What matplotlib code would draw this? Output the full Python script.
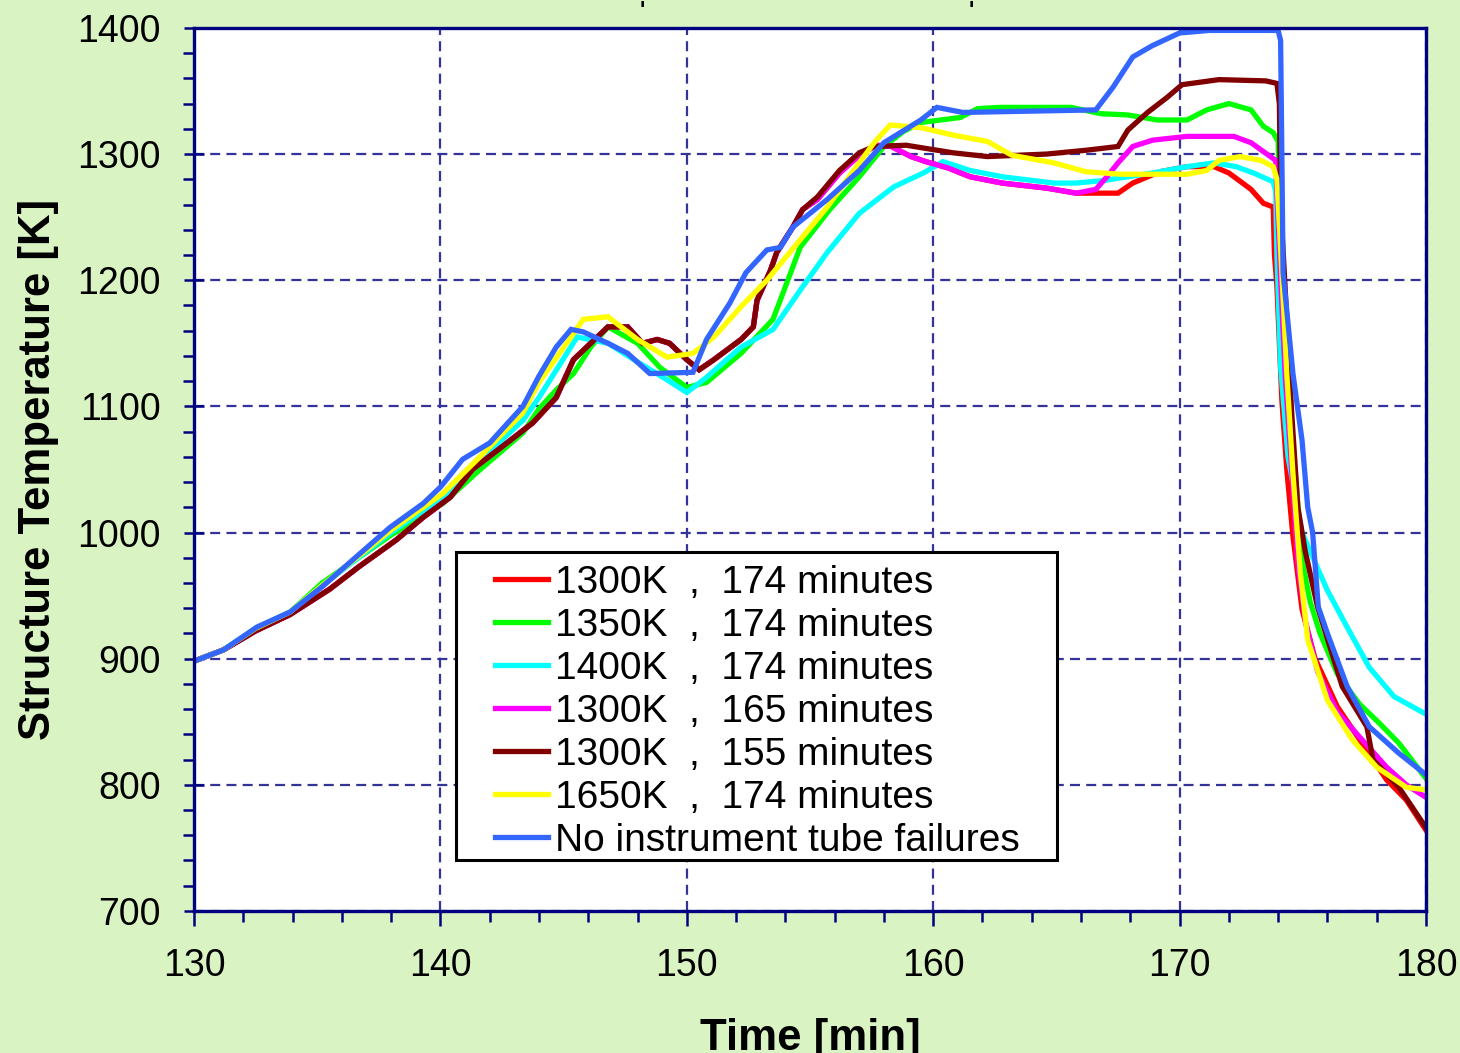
import matplotlib
matplotlib.use('Agg')
import matplotlib.pyplot as plt
from matplotlib.patches import Rectangle
from matplotlib.ticker import MultipleLocator

plt.rcParams['font.family'] = ['Liberation Sans', 'DejaVu Sans']

# structure temperature traces, time in min / temperature in K
t_red = [130, 131.2, 132.5, 133.9, 135.5, 136.7, 138.2, 139.3, 140.4, 141.3, 142.7, 143.75,
         144.7, 145.4, 146.1, 146.8, 147.6, 148.2, 148.8, 149.3, 150.0, 150.5, 151.1, 152.2,
         152.7, 152.85, 153.4, 153.65, 154.3, 154.7, 155.3, 156.2, 157.0, 157.7, 158.3, 159.1,
         159.7, 160.6, 161.5, 162.8, 164.6, 165.8, 167.5, 168.1, 169.2, 170.3, 171.4, 172.0,
         172.9, 173.4, 173.8, 173.85, 173.95, 174.15, 174.35, 174.6, 174.97, 175.5, 176.4,
         177.3, 178.4, 179.2, 180]
T_red = [898, 907, 922, 935, 955, 973, 994, 1012, 1028, 1050, 1071, 1087,
         1107, 1137, 1150, 1163, 1163, 1150, 1153, 1150, 1137, 1129, 1137, 1153,
         1163, 1184, 1208, 1222, 1242, 1256, 1264, 1285, 1299, 1307, 1306, 1298,
         1294, 1289, 1282, 1277, 1273, 1269, 1269, 1277, 1286, 1290, 1290, 1285,
         1272, 1261, 1258, 1220, 1195, 1105, 1050, 997, 939, 900, 862,
         836, 804, 788, 764]

t_green = [130, 131.2, 132.5, 133.9, 135.2, 136.6, 138.0, 140.1, 141.5, 143.35, 144.0, 144.7,
           145.4, 146.1, 146.8, 148.0, 148.9, 150.0, 150.8, 152.2, 153.5, 154.1, 154.6, 155.8,
           157.0, 158.0, 158.8, 159.5, 160.3, 161.1, 161.8, 162.7, 165.6, 166.8, 167.9, 169.1,
           170.3, 171.1, 172.0, 172.9, 173.4, 173.8, 174.0, 174.05, 174.3, 174.6, 175.0, 175.3,
           175.7, 176.4, 177.3, 178.1, 178.9, 180]
T_green = [898, 907, 923, 937, 960, 979, 998, 1023, 1048, 1079, 1098, 1113,
           1126, 1147, 1163, 1150, 1131, 1115, 1119, 1142, 1169, 1200, 1226, 1256,
           1282, 1306, 1318, 1325, 1327, 1329, 1336, 1337, 1337, 1332, 1331, 1327,
           1327, 1335, 1340, 1335, 1322, 1317, 1310, 1250, 1150, 1070, 975, 945,
           920, 888, 864, 849, 833, 805]

t_cyan = [130, 131.2, 132.5, 133.9, 135.2, 136.6, 138.0, 140.1, 141.5, 143.35, 144.0, 145.55,
          146.8, 148.1, 149.2, 150.0, 150.8, 152.2, 153.5, 154.6, 155.7, 157.0, 158.4, 159.6,
          160.4, 161.5, 162.8, 164.9, 165.8, 166.9, 168.9, 170.3, 171.4, 172.3, 173.0, 173.8,
          173.9, 173.95, 174.1, 174.4, 174.97, 175.3, 176.0, 176.8, 177.7, 178.7, 180]
T_cyan = [898, 907, 924, 937, 958, 979, 1000, 1028, 1055, 1089, 1107, 1155,
          1150, 1134, 1121, 1111, 1123, 1147, 1161, 1192, 1222, 1253, 1274, 1285,
          1294, 1287, 1282, 1277, 1277, 1279, 1285, 1290, 1293, 1290, 1285, 1278,
          1270, 1220, 1131, 1060, 1000, 985, 954, 925, 893, 870, 856]

t_magenta = [130, 131.2, 132.5, 133.9, 135.5, 136.7, 138.2, 139.3, 140.4, 141.3, 142.7, 143.75,
             144.7, 145.4, 146.1, 146.8, 147.6, 148.2, 148.8, 149.3, 150.0, 150.5, 151.1, 152.2,
             152.7, 152.85, 153.4, 153.65, 154.3, 154.7, 155.3, 156.2, 157.0, 157.7, 158.3, 159.1,
             159.7, 160.6, 161.5, 162.8, 164.6, 165.8, 166.6, 167.05, 167.5, 168.1, 168.9, 170.3,
             172.2, 172.9, 173.4, 173.9, 173.95, 174.1, 174.3, 174.55, 174.8, 175.1, 175.6,
             176.4, 177.3, 178.4, 179.2, 180]
T_magenta = [898, 907, 922, 935, 955, 973, 994, 1012, 1028, 1050, 1071, 1087,
             1107, 1137, 1150, 1163, 1163, 1150, 1153, 1150, 1137, 1129, 1137, 1153,
             1163, 1184, 1208, 1222, 1242, 1256, 1264, 1285, 1299, 1307, 1306, 1298,
             1294, 1289, 1282, 1277, 1273, 1269, 1272, 1282, 1293, 1306, 1311, 1314,
             1314, 1309, 1302, 1295, 1270, 1200, 1120, 1050, 975, 930, 890,
             858, 838, 814, 800, 790]

t_maroon = [130, 131.2, 132.5, 133.9, 135.5, 136.7, 138.2, 139.3, 140.4, 141.3, 142.7, 143.75,
            144.7, 145.4, 146.1, 146.8, 147.6, 148.2, 148.8, 149.3, 150.0, 150.5, 151.1, 152.2,
            152.7, 152.85, 153.4, 153.65, 154.3, 154.7, 155.3, 156.2, 157.0, 157.6, 158.9, 160.8,
            162.2, 164.6, 166.2, 167.5, 167.9, 168.7, 169.5, 170.1, 171.6, 173.5, 173.95, 174.05,
            174.1, 174.35, 174.55, 174.8, 175.1, 175.6, 176.6, 177.6, 177.85, 178.9, 180]
T_maroon = [898, 907, 922, 935, 955, 973, 994, 1012, 1028, 1050, 1071, 1087,
            1107, 1137, 1150, 1163, 1163, 1150, 1153, 1150, 1137, 1129, 1137, 1153,
            1163, 1184, 1208, 1222, 1242, 1256, 1266, 1287, 1301, 1306, 1307, 1301,
            1298, 1300, 1303, 1306, 1319, 1333, 1345, 1355, 1359, 1358, 1356, 1340,
            1260, 1170, 1095, 1020, 985, 941, 878, 846, 820, 798, 766]

t_yellow = [130, 131.2, 132.5, 133.9, 135.2, 136.6, 138.0, 140.1, 141.5, 143.35, 144.0, 145.3,
            145.8, 146.8, 148.0, 149.2, 150.25, 151.1, 152.2, 153.25, 154.6, 155.7, 156.7, 157.6,
            158.25, 159.5, 160.8, 162.2, 163.2, 164.9, 166.2, 167.6, 170.3, 171.1, 171.6, 172.45,
            173.3, 173.8, 173.95, 174.15, 174.35, 174.6, 174.9, 175.2, 176.0, 177.0, 178.0,
            179.2, 180]
T_yellow = [898, 907, 924, 937, 958, 980, 1002, 1031, 1058, 1095, 1119, 1155,
            1169, 1171, 1153, 1139, 1142, 1155, 1179, 1200, 1232, 1258, 1285, 1309,
            1323, 1321, 1315, 1310, 1299, 1293, 1286, 1284, 1284, 1287, 1295, 1298,
            1295, 1290, 1280, 1206, 1126, 1047, 968, 915, 867, 836, 814,
            798, 796]

t_blue = [130, 131.2, 132.55, 133.9, 135.2, 136.6, 137.95, 139.3, 140.0, 140.9, 142.0, 143.35,
          144.0, 144.7, 145.3, 145.8, 146.8, 147.6, 148.5, 150.25, 150.8, 151.75, 152.4, 153.25,
          153.8, 154.3, 155.7, 157.0, 158.0, 159.5, 160.15, 161.2, 166.6, 167.3, 168.1, 168.9,
          170.0, 171.2, 174.0, 174.1, 174.15, 174.2, 174.6, 174.97, 175.2, 175.4, 175.63, 176.0,
          176.8, 177.7, 178.9, 180]
T_blue = [898, 907, 925, 937, 957, 981, 1004, 1023, 1036, 1058, 1071, 1100,
          1124, 1147, 1161, 1159, 1150, 1142, 1126, 1127, 1153, 1182, 1206, 1224,
          1226, 1242, 1264, 1287, 1309, 1327, 1337, 1333, 1335, 1353, 1377, 1386,
          1396, 1398, 1398, 1390, 1300, 1206, 1126, 1073, 1020, 1000, 941, 920,
          878, 846, 825, 808]

labels = ['1300K  ,  174 minutes', '1350K  ,  174 minutes', '1400K  ,  174 minutes',
          '1300K  ,  165 minutes', '1300K  ,  155 minutes', '1650K  ,  174 minutes',
          'No instrument tube failures']
colors = ['#ff0000', '#00ff00', '#00ffff', '#ff00ff', '#800000', '#ffff00', '#3366ff']
series = [(t_red, T_red), (t_green, T_green), (t_cyan, T_cyan), (t_magenta, T_magenta),
          (t_maroon, T_maroon), (t_yellow, T_yellow), (t_blue, T_blue)]

navy = '#000080'
fig = plt.figure(figsize=(14.6, 10.53), dpi=100, facecolor='#d9f3c3')
ax = fig.add_axes([0.1329, 0.1349, 0.8438, 0.8386])
ax.set_facecolor('white')

for (t, T), c, lab in zip(series, colors, labels):
    ax.plot(t, T, color=c, lw=3.8, label=lab, solid_joinstyle='miter')

ax.set_xlim(130, 180)
ax.set_ylim(700, 1400)
ax.xaxis.set_major_locator(MultipleLocator(10))
ax.xaxis.set_minor_locator(MultipleLocator(2))
ax.yaxis.set_major_locator(MultipleLocator(100))
ax.yaxis.set_minor_locator(MultipleLocator(20))
ax.grid(which='major', color='#33339a', lw=1.6, ls=(0, (4.5, 2.8)))

for s in ax.spines.values():
    s.set_color(navy)
    s.set_linewidth(2.4)

ax.tick_params(axis='x', which='major', direction='out', length=11, width=1.8,
               color=navy, pad=16, labelsize=27)
ax.tick_params(axis='x', which='minor', direction='out', length=8, width=1.8, color=navy)
ax.tick_params(axis='y', which='major', direction='inout', length=14, width=1.8,
               color=navy, pad=17, labelsize=27)
ax.tick_params(axis='y', which='minor', direction='out', length=8, width=1.8, color=navy)

ax.set_xlabel('Time [min]', fontsize=31.5, fontweight='bold', labelpad=24)
ax.set_ylabel('Structure Temperature [K]', fontsize=31.5, fontweight='bold', labelpad=13)

# cut-off marks of the heading above the plot
for xf in (642 / 1460, 971 / 1460):
    fig.text(xf, 1.0, "'", fontsize=16, ha='center', va='top', fontweight='bold')

# legend box drawn by hand so the padding can be set freely
ax.add_patch(Rectangle((0.2127, 0.0578), 0.7005 - 0.2127, 0.4066 - 0.0578,
                       transform=ax.transAxes, facecolor='white', edgecolor='black',
                       lw=2.2, zorder=4))
leg = ax.legend(loc='upper left', bbox_to_anchor=(0.2440, 0.3920), frameon=False,
                fontsize=28, borderpad=0, borderaxespad=0, handlelength=1.36,
                handletextpad=0.18, labelspacing=0.18)
leg.set_zorder(5)

fig.savefig('out.png', dpi=100, facecolor=fig.get_facecolor())
